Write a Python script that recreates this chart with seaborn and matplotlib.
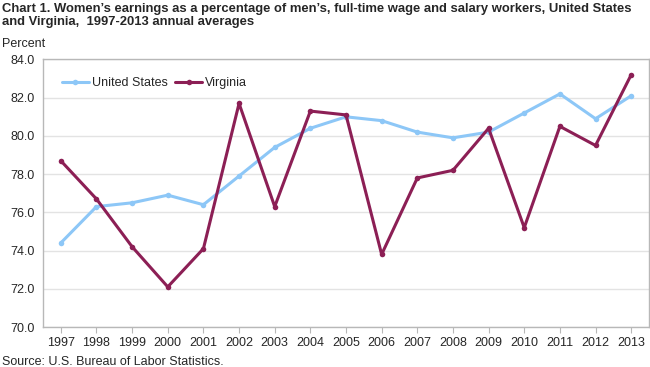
import seaborn as sns
import pandas as pd
import matplotlib.pyplot as plt

years = list(range(1997, 2014))
united_states = [74.4, 76.3, 76.5, 76.9, 76.4, 77.9, 79.4, 80.4, 81.0, 80.8,
                 80.2, 79.9, 80.2, 81.2, 82.2, 80.9, 82.1]
virginia = [78.7, 76.7, 74.2, 72.1, 74.1, 81.7, 76.3, 81.3, 81.1, 73.8,
            77.8, 78.2, 80.4, 75.2, 80.5, 79.5, 83.2]

df = pd.DataFrame({
    'Year': years * 2,
    'Percent': united_states + virginia,
    'Area': ['United States'] * len(years) + ['Virginia'] * len(years),
})

sns.set_style('white')
plt.rcParams['font.family'] = ['Liberation Sans', 'DejaVu Sans']

fig = plt.figure(figsize=(6.5, 3.67), dpi=100)
ax = fig.add_axes([43 / 650, 1 - 327 / 367, 606 / 650, 267.5 / 367])

palette = {'United States': '#8DC7F7', 'Virginia': '#8C1F55'}
sns.lineplot(data=df, x='Year', y='Percent', hue='Area', palette=palette,
             marker='o', markersize=4, markeredgewidth=0, linewidth=2.2,
             ax=ax)

ax.set_xlim(1996.5, 2013.5)
ax.set_ylim(70, 84)
ax.set_xticks(years)
ax.set_xticklabels([str(y) for y in years], fontsize=9)
ax.set_yticks(range(70, 86, 2))
ax.set_yticklabels([f'{v:.1f}' for v in range(70, 86, 2)], fontsize=9)
ax.set_xlabel('')
ax.set_ylabel('')

ax.yaxis.grid(True, color='#e3e3e3', linewidth=1)
ax.set_axisbelow(True)
for side in ['top', 'right', 'left', 'bottom']:
    ax.spines[side].set_color('#b8b8b8')
    ax.spines[side].set_linewidth(1)
ax.tick_params(axis='x', direction='out', length=4, color='#b8b8b8', pad=3,
               bottom=True)
ax.tick_params(axis='y', length=0, pad=6)

ax.legend(loc='upper left', bbox_to_anchor=(0.012, 0.975), ncol=2, frameon=False,
          fontsize=9, handlelength=2.2, handletextpad=0.2, columnspacing=0.6)

fig.text(2 / 650, 1 - 3 / 367, 'Chart 1. Women\u2019s earnings as a percentage of men\u2019s, '
         'full-time wage and salary workers, United States\nand Virginia,  1997-2013 '
         'annual averages', fontsize=9.35, fontweight='bold', va='top', ha='left',
         linespacing=1.12)
fig.text(2 / 650, 1 - 44 / 367, 'Percent', fontsize=9, va='center', ha='left')
fig.text(2 / 650, 1 - 362 / 367, 'Source: U.S. Bureau of Labor Statistics.',
         fontsize=9, va='center', ha='left')

fig.savefig('out.png', dpi=100)
